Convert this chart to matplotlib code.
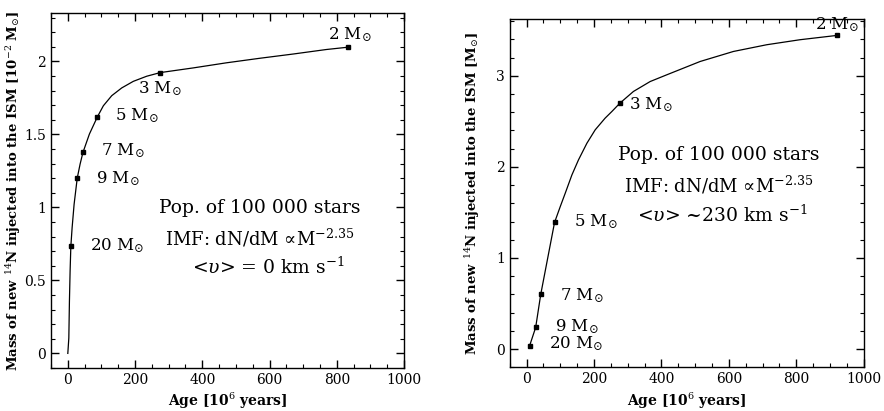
import matplotlib
matplotlib.use("Agg")
import matplotlib.pyplot as plt
from matplotlib.ticker import MultipleLocator

plt.rcParams['font.family'] = 'DejaVu Serif'
plt.rcParams['mathtext.fontset'] = 'dejavuserif'

# left panel: no rotation (units of 1e-2 Msun)
masses = ['20', '9', '7', '5', '3', '2']
age_l = [9, 28, 45, 88, 275, 834]
mass_l = [0.733, 1.20, 1.376, 1.62, 1.923, 2.097]
# curve
curve_age_l = [0, 3, 4.8, 6.8, 9, 12.8, 18.7, 28, 36.5, 45, 64.2, 88, 105.8, 130.7,
               160.4, 194.8, 234.6, 275, 373, 472, 571, 670, 769, 834]
curve_mass_l = [0.0, 0.105, 0.357, 0.563, 0.733, 0.861, 1.021, 1.20, 1.296, 1.376, 1.502,
                1.62, 1.696, 1.765, 1.818, 1.863, 1.898, 1.923, 1.955, 1.99, 2.021, 2.05,
                2.081, 2.097]
lab_l = [(66, 0.735), (84, 1.20), (100, 1.39), (141, 1.63), (209, 1.81), (773, 2.18)]

# right panel: with rotation (Msun)
age_r = [9, 27, 42, 83, 277, 920]
mass_r = [0.036, 0.238, 0.60, 1.39, 2.70, 3.443]
curve_age_r = [9, 27, 42, 83, 99.9, 114.7, 134.5, 154, 179, 203.6, 233, 253, 277, 317,
               366.6, 416, 514.8, 613.5, 712.5, 811.2, 920]
curve_mass_r = [0.036, 0.238, 0.60, 1.39, 1.564, 1.711, 1.912, 2.077, 2.26, 2.407, 2.535,
                2.608, 2.70, 2.828, 2.937, 3.011, 3.157, 3.267, 3.341, 3.396, 3.443]
lab_r = [(66, 0.06), (84, 0.245), (98, 0.59), (140, 1.40), (303, 2.68), (856, 3.56)]

imf_txt = 'IMF: dN/dM \u221dM$^{-2.35}$'

fig = plt.figure(figsize=(8.84, 4.11), dpi=100)
ax1 = fig.add_axes([0.0577, 0.1046, 0.3993, 0.8634])
ax2 = fig.add_axes([0.5766, 0.1063, 0.4004, 0.8467])


def style(ax, ymin, ymax, ymaj, ymin_step):
    ax.set_xlim(-50, 1000)
    ax.set_ylim(ymin, ymax)
    ax.xaxis.set_major_locator(MultipleLocator(200))
    ax.xaxis.set_minor_locator(MultipleLocator(50))
    ax.yaxis.set_major_locator(MultipleLocator(ymaj))
    ax.yaxis.set_minor_locator(MultipleLocator(ymin_step))
    ax.tick_params(which='both', direction='in', top=True, right=True, labelsize=10)
    ax.tick_params(which='major', length=6, width=1)
    ax.tick_params(which='minor', length=3, width=0.8)
    for s in ax.spines.values():
        s.set_linewidth(1)
    ax.set_xlabel('Age [10$^6$ years]', fontsize=10, fontweight='bold', labelpad=3)


style(ax1, -0.1, 2.33, 0.5, 0.1)
ax1.set_yticks([0, 0.5, 1, 1.5, 2])
ax1.set_yticklabels(['0', '0.5', '1', '1.5', '2'])
ax1.plot(curve_age_l, curve_mass_l, color='black', lw=0.9)
ax1.plot(age_l, mass_l, 's', color='black', ms=3)
for m, (x, y) in zip(masses, lab_l):
    ax1.text(x, y, m + r' M$_{\odot}$', fontsize=12, ha='left', va='center')
ax1.text(572, 0.996, 'Pop. of 100 000 stars', fontsize=13.5, ha='center', va='center')
ax1.text(572, 0.79, imf_txt, fontsize=13, ha='center', va='center')
ax1.text(597, 0.59, r'<$\upsilon$> = 0 km s$^{-1}$', fontsize=13.5, ha='center', va='center')
ax1.set_ylabel(r'Mass of new $^{14}$N injected into the ISM [10$^{-2}$ M$_{\odot}$]',
               fontsize=9.5, fontweight='bold', labelpad=1)

style(ax2, -0.2, 3.62, 1, 0.2)
ax2.plot(curve_age_r, curve_mass_r, color='black', lw=0.9)
ax2.plot(age_r, mass_r, 's', color='black', ms=3)
for m, (x, y) in zip(masses, lab_r):
    ax2.text(x, y, m + r' M$_{\odot}$', fontsize=12, ha='left', va='center')
ax2.text(571, 2.13, 'Pop. of 100 000 stars', fontsize=13.5, ha='center', va='center')
ax2.text(571, 1.80, imf_txt, fontsize=13, ha='center', va='center')
ax2.text(580, 1.47, r'<$\upsilon$> ~230 km s$^{-1}$', fontsize=13.5, ha='center', va='center')
ax2.set_ylabel(r'Mass of new $^{14}$N injected into the ISM [M$_{\odot}$]',
               fontsize=9.5, fontweight='bold', labelpad=10)

fig.savefig('out.png', dpi=100)
